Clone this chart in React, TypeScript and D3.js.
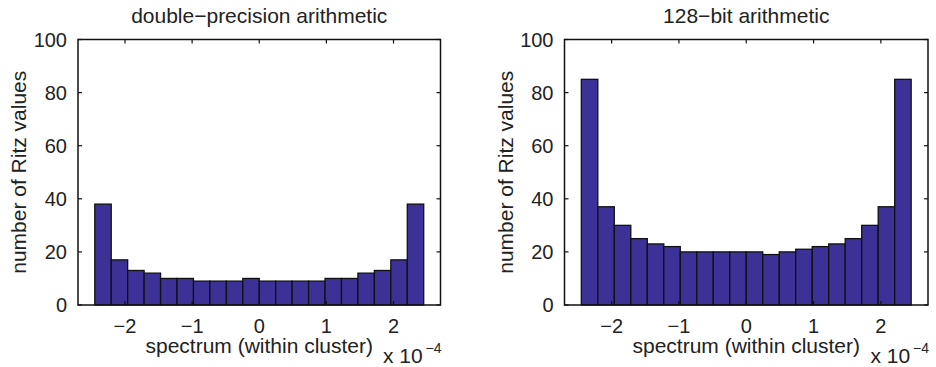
import React from "react";
import * as d3 from "d3";

const doubleCounts = [38, 17, 13, 12, 10, 10, 9, 9, 9, 10, 9, 9, 9, 9, 10, 10, 12, 13, 17, 38];
const bit128Counts = [85, 37, 30, 25, 23, 22, 20, 20, 20, 20, 20, 19, 20, 21, 22, 23, 25, 30, 37, 85];
const binStart = -2.45;
const binEnd = 2.45;
const xTicks = [-2, -1, 0, 1, 2];
const yTicks = [0, 20, 40, 60, 80, 100];
const titles = ["double\u2212precision arithmetic", "128\u2212bit arithmetic"];
const xLabel = "spectrum (within cluster)";
const yLabel = "number of Ritz values";

const FONT = "'Liberation Sans', Arial, Helvetica, sans-serif";
const FILL = "#3c3197";

type PanelProps = { x0: number; x1: number; counts: number[]; title: string };

function Panel({ x0, x1, counts, title }: PanelProps) {
  const top = 39.5;
  const bottom = 305;
  const x = d3.scaleLinear().domain([-2.7, 2.7]).range([x0, x1]);
  const y = d3.scaleLinear().domain([0, 100]).range([bottom, top]);
  const n = counts.length;
  const w = (binEnd - binStart) / n;
  const tl = 4;
  const cx = (x0 + x1) / 2;
  return (
    <g fontFamily={FONT} fill="#222">
      <text x={cx} y={23} textAnchor="middle" fontSize={21}>{title}</text>
      {counts.map((c, i) => (
        <rect
          key={i}
          x={x(binStart + i * w)}
          y={y(c)}
          width={x(binStart + (i + 1) * w) - x(binStart + i * w)}
          height={y(0) - y(c)}
          fill={FILL}
          stroke="#111"
          strokeWidth={1.3}
        />
      ))}
      <rect x={x0} y={top} width={x1 - x0} height={bottom - top} fill="none" stroke="#111" strokeWidth={1.5} />
      {xTicks.map((t) => (
        <g key={"x" + t}>
          <line x1={x(t)} x2={x(t)} y1={bottom} y2={bottom - tl} stroke="#111" strokeWidth={1.2} />
          <line x1={x(t)} x2={x(t)} y1={top} y2={top + tl} stroke="#111" strokeWidth={1.2} />
          <text x={x(t)} y={333} textAnchor="middle" fontSize={20}>
            {t < 0 ? "\u2212" + Math.abs(t) : String(t)}
          </text>
        </g>
      ))}
      {yTicks.map((t) => (
        <g key={"y" + t}>
          <line x1={x0} x2={x0 + tl} y1={y(t)} y2={y(t)} stroke="#111" strokeWidth={1.2} />
          <line x1={x1} x2={x1 - tl} y1={y(t)} y2={y(t)} stroke="#111" strokeWidth={1.2} />
          <text x={x0 - 11} y={y(t) + 7} textAnchor="end" fontSize={20}>{t}</text>
        </g>
      ))}
      <text x={cx} y={353} textAnchor="middle" fontSize={21}>{xLabel}</text>
      <text x={x1 - 57.5} y={363} fontSize={21}>x 10</text>
      <text x={x1 - 15} y={353} fontSize={14}>{"\u22124"}</text>
      <text
        transform={`translate(${x0 - 52},${(top + bottom) / 2}) rotate(-90)`}
        textAnchor="middle"
        fontSize={21}
      >
        {yLabel}
      </text>
    </g>
  );
}

export default function App() {
  return (
    <svg
      width={936}
      height={367}
      style={{ position: "absolute", left: 0, top: 0, background: "#fff" }}
    >
      <rect width={936} height={367} fill="#fff" />
      <Panel x0={78} x1={440.5} counts={doubleCounts} title={titles[0]} />
      <Panel x0={564.5} x1={928} counts={bit128Counts} title={titles[1]} />
    </svg>
  );
}
